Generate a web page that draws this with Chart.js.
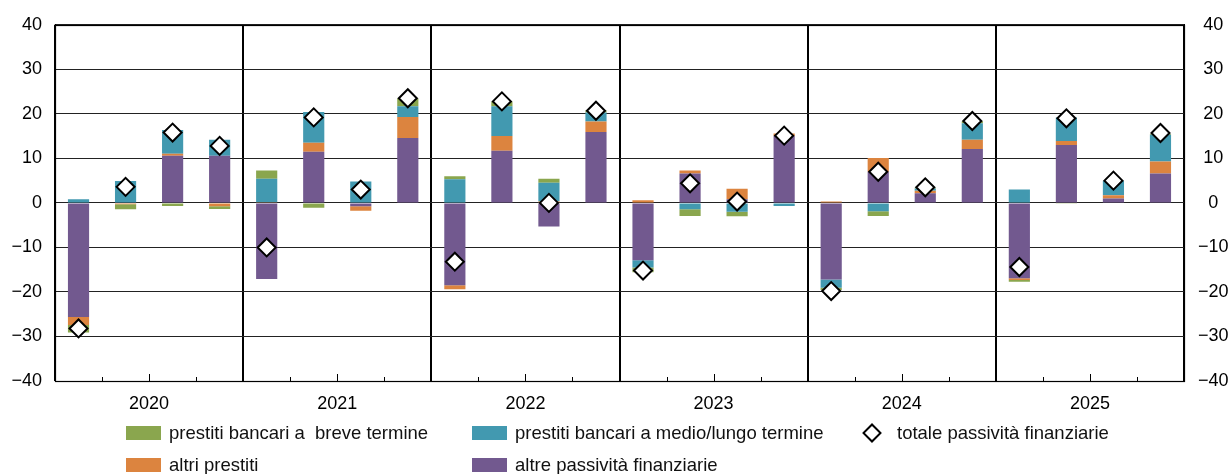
<!DOCTYPE html>
<html>
<head>
<meta charset="utf-8">
<script src="https://cdn.jsdelivr.net/npm/chart.js@4/dist/chart.umd.min.js"></script>
<style>
  body { margin: 0; background: #fff; }
  #wrap { position: relative; width: 1229px; height: 474px; }
  .leg { position: absolute; font: 18.5px 'Liberation Sans', Arial, sans-serif; color: #111; white-space: pre; line-height: 22px; }
  .sw { position: absolute; width: 35px; height: 14px; }
  .dia { position: absolute; width: 10px; height: 10px; border: 2px solid #000; background: #fff; transform: rotate(45deg); }
</style>
</head>
<body>
<div id="wrap">
  <canvas id="chart" width="1229" height="474"></canvas>
</div>
<script>
const years = ['2020', '2021', '2022', '2023', '2024', '2025'];
const quarters = [
  '2020Q1', '2020Q2', '2020Q3', '2020Q4',
  '2021Q1', '2021Q2', '2021Q3', '2021Q4',
  '2022Q1', '2022Q2', '2022Q3', '2022Q4',
  '2023Q1', '2023Q2', '2023Q3', '2023Q4',
  '2024Q1', '2024Q2', '2024Q3', '2024Q4',
  '2025Q1', '2025Q2', '2025Q3', '2025Q4'
];
const yTicks = [-40, -30, -20, -10, 0, 10, 20, 30, 40];

// stacking order from zero outwards: purple, orange, teal, green
const altrePassivita = [
  -25.6, 0, 10.6, 10.6,
  -17.1, 11.5, -0.75, 14.6,
  -18.5, 11.7, -5.3, 15.9,
  -12.9, 6.6, 0.8, 15.0,
  -17.2, 7.0, 2.15, 12.1,
  -16.9, 13.0, 1.0, 6.6
];
const altriPrestiti = [
  -1.8, -0.3, 0.45, -0.75,
  0.15, 2.0, -1.0, 4.7,
  -0.9, 3.3, 0.3, 2.4,
  0.6, 0.7, 2.4, 0.6,
  0.3, 3.1, 0.6, 2.1,
  -0.4, 0.9, 0.7, 2.7
];
const prestitiMedioLungo = [
  0.8, 4.9, 5.3, 3.6,
  5.3, 6.9, 4.8, 2.4,
  5.3, 6.7, 4.2, 2.0,
  -1.6, -1.4, -2.0, -0.7,
  -1.85, -1.85, 0.5, 3.7,
  3.0, 5.3, 3.3, 6.0
];
const prestitiBreve = [
  -1.7, -1.1, -0.7, -0.6,
  1.8, -1.1, 0, 1.8,
  0.7, 1.1, 0.9, 0.45,
  -1.1, -1.55, -1.0, 0,
  -0.5, -1.1, 0.2, 0.45,
  -0.4, -0.2, 0, 0.2
];
const totalePassivita = [
  -28.2, 3.6, 15.8, 12.8,
  -10.0, 19.2, 3.0, 23.5,
  -13.2, 22.8, 0.0, 20.7,
  -15.2, 4.4, 0.3, 15.1,
  -19.8, 7.0, 3.5, 18.4,
  -14.4, 19.0, 5.0, 15.7
];

const colGreen = '#8aa64e';
const colTeal = '#4299b0';
const colOrange = '#dc843f';
const colPurple = '#72598f';

const font = "'Liberation Sans', Arial, sans-serif";
const minus = v => (v < 0 ? '\u2212' + Math.abs(v) : '' + v);

const bar = (label, data, color) => ({
  type: 'bar', label, data, backgroundColor: color, borderWidth: 0,
  barPercentage: 0.45, categoryPercentage: 1, order: 1
});

// frame around the plot + small quarter ticks on the bottom edge
const framePlugin = {
  id: 'frame',
  afterDraw(chart) {
    const { ctx, chartArea: a } = chart;
    const x = chart.scales.x;
    ctx.save();
    ctx.strokeStyle = '#000';
    ctx.lineWidth = 1;
    ctx.beginPath();
    for (let i = 1; i < quarters.length; i++) {
      if (i % 4 === 0) continue;
      const px = Math.round((x.getPixelForValue(i - 1) + x.getPixelForValue(i)) / 2) + 0.5;
      const len = i % 4 === 2 ? 7 : 4;
      ctx.moveTo(px, a.bottom);
      ctx.lineTo(px, a.bottom - len);
    }
    ctx.stroke();
    ctx.lineWidth = 1.2;
    ctx.strokeRect(Math.round(a.left) + 0.5, Math.round(a.top) + 0.5, Math.round(a.right - a.left), Math.round(a.bottom - a.top));
    ctx.restore();
  }
};

new Chart(document.getElementById('chart'), {
  data: {
    labels: quarters,
    datasets: [
      bar('altre passività finanziarie', altrePassivita, colPurple),
      bar('altri prestiti', altriPrestiti, colOrange),
      bar('prestiti bancari a medio/lungo termine', prestitiMedioLungo, colTeal),
      bar('prestiti bancari a  breve termine', prestitiBreve, colGreen),
      {
        type: 'line', label: 'totale passività finanziarie', data: totalePassivita,
        stack: 'totale', showLine: false, pointStyle: 'rectRot', pointRadius: 9,
        pointBackgroundColor: '#fff', pointBorderColor: '#000', pointBorderWidth: 2, order: 0
      }
    ]
  },
  options: {
    responsive: false,
    animation: false,
    layout: { padding: { top: 21, left: 0, right: 0, bottom: 0 } },
    plugins: { legend: { display: false }, tooltip: { enabled: false } },
    scales: {
      x: { stacked: true, display: false, offset: true },
      x2: {
        type: 'category', labels: years, position: 'bottom', offset: true,
        grid: { offset: true, color: '#000', lineWidth: 2, drawTicks: false },
        border: { color: '#000' },
        ticks: { color: '#000', padding: 12, font: { family: font, size: 18 } },
        afterFit: s => { s.height = 93; }
      },
      y: {
        stacked: true, min: -40, max: 40,
        afterBuildTicks: s => { s.ticks = yTicks.map(v => ({ value: v })); },
        ticks: { color: '#000', padding: 13, callback: minus, font: { family: font, size: 18 } },
        grid: { color: '#222', drawTicks: false },
        border: { color: '#000' },
        afterFit: s => { s.width = 55; }
      },
      y2: {
        position: 'right', min: -40, max: 40,
        afterBuildTicks: s => { s.ticks = yTicks.map(v => ({ value: v })); },
        ticks: { color: '#000', padding: 14, crossAlign: 'center', callback: minus, font: { family: font, size: 18 } },
        grid: { display: false, drawTicks: false },
        border: { color: '#000' },
        afterFit: s => { s.width = 45; }
      }
    }
  },
  plugins: [framePlugin]
});

// legend laid out in columns like the original
const legendItems = [
  { kind: 'sw', color: colGreen, text: 'prestiti bancari a  breve termine', x: 126, row: 0 },
  { kind: 'sw', color: colTeal, text: 'prestiti bancari a medio/lungo termine', x: 472, row: 0 },
  { kind: 'dia', text: 'totale passività finanziarie', x: 864, row: 0 },
  { kind: 'sw', color: colOrange, text: 'altri prestiti', x: 126, row: 1 },
  { kind: 'sw', color: colPurple, text: 'altre passività finanziarie', x: 472, row: 1 }
];
const wrap = document.getElementById('wrap');
legendItems.forEach(it => {
  const cy = 433 + it.row * 32;
  const mark = document.createElement('div');
  mark.className = it.kind;
  if (it.kind === 'sw') {
    mark.style.left = it.x + 'px';
    mark.style.top = (cy - 7) + 'px';
    mark.style.background = it.color;
  } else {
    mark.style.left = (it.x + 1) + 'px';
    mark.style.top = (cy - 7) + 'px';
  }
  wrap.appendChild(mark);
  const t = document.createElement('div');
  t.className = 'leg';
  t.textContent = it.text;
  t.style.left = (it.x + (it.kind === 'sw' ? 43 : 33)) + 'px';
  t.style.top = (cy - 11) + 'px';
  wrap.appendChild(t);
});
</script>
</body>
</html>
